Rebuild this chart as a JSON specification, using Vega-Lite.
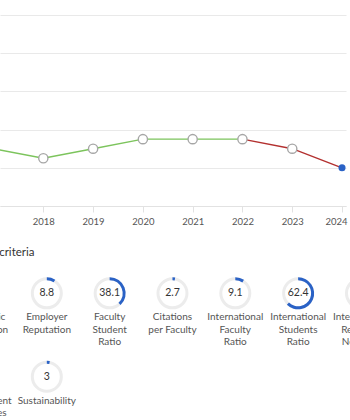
{
  "$schema": "https://vega.github.io/schema/vega-lite/v6.json",
  "width": 346,
  "height": 420,
  "autosize": {"type": "none"},
  "padding": {"left": 0, "top": 0, "right": 4, "bottom": 0},
  "background": "white",
  "config": {"view": {"stroke": null}, "font": "Lato"},
  "datasets": {
    "history": [
      {"year": 2017, "score": 1.5},
      {"year": 2018, "score": 1.25},
      {"year": 2019, "score": 1.5},
      {"year": 2020, "score": 1.75},
      {"year": 2021, "score": 1.75},
      {"year": 2022, "score": 1.75},
      {"year": 2023, "score": 1.5},
      {"year": 2024, "score": 1.0}
    ],
    "criteria": [
      {"order": 1, "criterion": "Academic Reputation", "label": "Academic\nReputation", "score": 4.5},
      {"order": 2, "criterion": "Employer Reputation", "label": "Employer\nReputation", "score": 8.8},
      {"order": 3, "criterion": "Faculty Student Ratio", "label": "Faculty\nStudent\nRatio", "score": 38.1},
      {"order": 4, "criterion": "Citations per Faculty", "label": "Citations\nper Faculty", "score": 2.7},
      {"order": 5, "criterion": "International Faculty Ratio", "label": "International\nFaculty\nRatio", "score": 9.1},
      {"order": 6, "criterion": "International Students Ratio", "label": "International\nStudents\nRatio", "score": 62.4},
      {"order": 7, "criterion": "International Research Network", "label": "International\nResearch\nNetwork", "score": 12.0},
      {"order": 8, "criterion": "Employment Outcomes", "label": "Employment\nOutcomes", "score": 5.0},
      {"order": 9, "criterion": "Sustainability", "label": "Sustainability", "score": 3}
    ]
  },
  "layer": [
    {
      "data": {"name": "history"},
      "encoding": {
        "x": {
          "field": "year",
          "type": "quantitative",
          "scale": {"domain": [2017.13, 2024.08], "nice": false, "zero": false},
          "axis": {
            "values": [2018, 2019, 2020, 2021, 2022, 2023, 2024],
            "format": "d",
            "offset": -214,
            "grid": false,
            "domainColor": "#e2e2e2",
            "tickColor": "#e2e2e2",
            "tickSize": 6,
            "labelFontSize": 9.5,
            "labelColor": "#555555",
            "labelPadding": 4,
            "labelFlush": 5,
            "labelFlushOffset": 5,
            "title": "Ranking criteria",
            "titleX": -44.5,
            "titleY": 46,
            "titleAlign": "left",
            "titleBaseline": "middle",
            "titleFontSize": 11.5,
            "titleFontWeight": "normal",
            "titleColor": "#333333"
          }
        },
        "y": {
          "field": "score",
          "type": "quantitative",
          "scale": {"domain": [-5.602, 5.393], "nice": false, "zero": false},
          "axis": {
            "values": [0, 1, 2, 3, 4, 5],
            "labels": false,
            "ticks": false,
            "domain": false,
            "title": null,
            "grid": true,
            "gridColor": "#e9e9e9",
            "gridWidth": 1.2
          }
        }
      },
      "layer": [
        {
          "transform": [{"filter": "datum.year <= 2022"}],
          "mark": {"type": "line", "color": "#7cc45c", "strokeWidth": 1.4}
        },
        {
          "transform": [{"filter": "datum.year >= 2022"}],
          "mark": {"type": "line", "color": "#b3302f", "strokeWidth": 1.4}
        },
        {
          "transform": [{"filter": "datum.year < 2024"}],
          "mark": {"type": "point", "shape": "circle", "filled": true, "fill": "white", "stroke": "#a6a6a6", "strokeWidth": 1.4, "size": 85, "opacity": 1}
        },
        {
          "transform": [{"filter": "datum.year == 2024"}],
          "mark": {"type": "point", "shape": "circle", "filled": true, "color": "#2a62c6", "size": 50, "opacity": 1}
        }
      ]
    },
    {
      "data": {"name": "criteria"},
      "transform": [
        {"calculate": "(datum.order - 1) % 7", "as": "col"},
        {"calculate": "floor((datum.order - 1) / 7) + 1", "as": "row"}
      ],
      "encoding": {
        "x": {"field": "col", "type": "quantitative", "scale": {"domain": [0.2547, 5.762], "nice": false, "zero": false}, "axis": null},
        "y": {"field": "row", "type": "quantitative", "scale": {"domain": [-2.517, 2.519], "nice": false, "zero": false, "reverse": true}, "axis": null}
      },
      "layer": [
        {
          "mark": {"type": "arc", "radius": 16, "radius2": 13, "theta": 0, "theta2": 6.2832, "color": "#ececec"}
        },
        {
          "mark": {"type": "arc", "radius": 16, "radius2": 13, "color": "#2a62c6"},
          "encoding": {
            "theta": {"field": "score", "type": "quantitative", "stack": null, "scale": {"domain": [0, 100], "range": [0, 6.2832]}}
          }
        },
        {
          "mark": {"type": "text", "align": "center", "baseline": "middle", "fontSize": 10.5, "color": "#333333"},
          "encoding": {"text": {"field": "score", "type": "quantitative"}}
        },
        {
          "mark": {"type": "text", "align": "center", "baseline": "top", "dy": 19, "fontSize": 10, "lineHeight": 12.3, "lineBreak": "\n", "color": "#555555"},
          "encoding": {"text": {"field": "label", "type": "nominal"}}
        }
      ]
    }
  ],
  "resolve": {"scale": {"x": "independent", "y": "independent"}, "axis": {"x": "independent", "y": "independent"}}
}
